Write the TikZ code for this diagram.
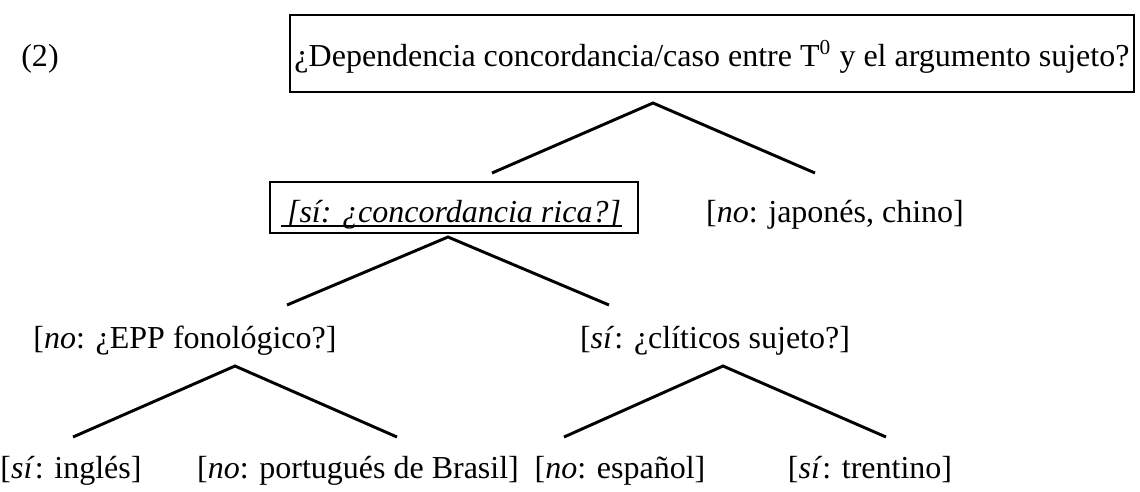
\documentclass[tikz,border=0pt]{standalone}
\usepackage{fontspec}
\setmainfont{Liberation Serif}
\usetikzlibrary{positioning}

\begin{document}
\begin{tikzpicture}[x=0.375pt,y=-0.375pt,
label text/.style={inner sep=0pt,anchor=base,font=\fontsize{12}{14}\selectfont},
q box/.style={label text,draw,line width=1pt,inner xsep=1.7pt,inner ysep=0pt},
branch/.style={line width=1.1pt}]
\useasboundingbox (0,0) rectangle (1140,491);
% pregunta principal
\node[label text] (ex) at (40,66) {(2)};
\node[q box,text height=19.1pt,text depth=9.75pt] (q0) at (712,66) {¿Dependencia concordancia/caso entre T\textsuperscript{0} y el argumento sujeto?};
\coordinate (q0-fork) at (653,103);
\coordinate (q0-l) at (492,173);
\coordinate (q0-r) at (815,173);
\draw[branch] (q0-l) -- (q0-fork) -- (q0-r);
% segundo nivel
\node[q box,inner xsep=6.4pt,text height=15pt,text depth=4.1pt] (q1) at (454,222) {\textit{[sí: ¿concordancia rica?]}};
\draw[line width=0.8pt] ([xshift=-65pt,yshift=-1.4pt]q1.base) -- ([xshift=63pt,yshift=-1.4pt]q1.base);
\node[label text] (a0) at (835,222) {[\textit{no}: japonés, chino]};
\coordinate (q1-fork) at (448,237);
\coordinate (q1-l) at (287,305);
\coordinate (q1-r) at (609,305);
\draw[branch] (q1-l) -- (q1-fork) -- (q1-r);
% tercer nivel
\node[label text] (q2) at (185,348) {[\textit{no}: ¿EPP fonológico?]};
\node[label text] (q3) at (715,348) {[\textit{sí}: ¿clíticos sujeto?]};
\coordinate (q2-fork) at (235,366);
\coordinate (q2-l) at (73,437);
\coordinate (q2-r) at (397,437);
\draw[branch] (q2-l) -- (q2-fork) -- (q2-r);
\coordinate (q3-fork) at (723,366);
\coordinate (q3-l) at (564,437);
\coordinate (q3-r) at (886,437);
\draw[branch] (q3-l) -- (q3-fork) -- (q3-r);
% hojas
\node[label text] (a1) at (71,478) {[\textit{sí}: inglés]};
\node[label text] (a2) at (358,478) {[\textit{no}: portugués de Brasil]};
\node[label text] (a3) at (620,478) {[\textit{no}: español]};
\node[label text] (a4) at (870,478) {[\textit{sí}: trentino]};
\end{tikzpicture}
\end{document}
